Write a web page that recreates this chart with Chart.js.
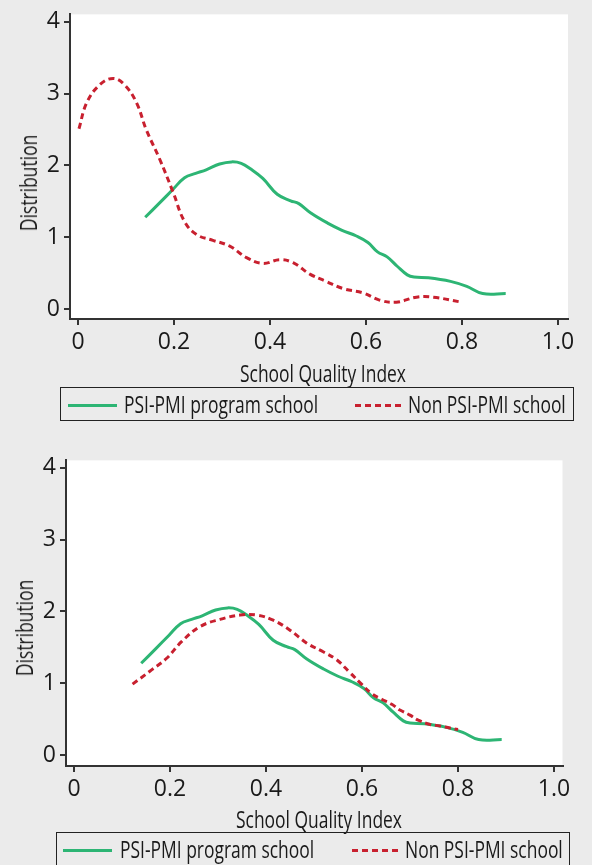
<!DOCTYPE html>
<html>
<head>
<meta charset="utf-8">
<script src="https://cdn.jsdelivr.net/npm/chart.js@4.4.0/dist/chart.umd.min.js"></script>
<style>
  html, body { margin: 0; padding: 0; width: 592px; height: 865px; overflow: hidden; background: #ebebeb; }
  canvas { position: absolute; left: 0; }
  .ttl, .legend {
    position: absolute; white-space: nowrap; color: #1a1a1a;
    font-family: 'Open Sans', sans-serif; font-size: 23px;
  }
  .ttl { line-height: 22px; height: 22px; }
  .legend { box-sizing: border-box; width: 514px; height: 34px; border: 1px solid #222; }
  .legend span { position: absolute; }
  .txt { top: 0; line-height: 32px; transform-origin: 0 50%; }
  .swatch { top: 15.5px; height: 3px; }
  .solid { width: 49px; background: #2db574; }
  .dash { width: 48px; background: repeating-linear-gradient(to right, #c8202f 0 6px, transparent 6px 10px); }
</style>
</head>
<body>
<canvas id="c1" width="592" height="360" style="top:0"></canvas>
<canvas id="c2" width="592" height="360" style="top:446px"></canvas>

<div class="ttl ytl" style="left:28px; top:182.5px">Distribution</div>
<div class="ttl xtl" style="left:322.5px; top:361.7px">School Quality Index</div>
<div class="legend" style="left:60px; top:387px">
  <span class="swatch solid" style="left:7px"></span><span class="txt" style="left:63px">PSI-PMI program school</span>
  <span class="swatch dash" style="left:294px"></span><span class="txt" style="left:347px">Non PSI-PMI school</span>
</div>

<div class="ttl ytl" style="left:24.3px; top:628px">Distribution</div>
<div class="ttl xtl" style="left:319px; top:808.3px">School Quality Index</div>
<div class="legend" style="left:56px; top:832px">
  <span class="swatch solid" style="left:6px"></span><span class="txt" style="left:63px">PSI-PMI program school</span>
  <span class="swatch dash" style="left:295px"></span><span class="txt" style="left:348px">Non PSI-PMI school</span>
</div>

<script>
const xTickValues = [0, 0.2, 0.4, 0.6, 0.8, 1.0];
const xTickLabels = ['0', '0.2', '0.4', '0.6', '0.8', '1.0'];
const yTickValues = [0, 1, 2, 3, 4];
const yTickLabels = ['0', '1', '2', '3', '4'];
const seriesNames = ['PSI-PMI program school', 'Non PSI-PMI school'];

// program schools: same curve in both panels
const programX = [0.14, 0.17, 0.198, 0.222, 0.245, 0.267, 0.295, 0.32, 0.34, 0.36, 0.385, 0.415, 0.443, 0.46,
  0.485, 0.52, 0.55, 0.58, 0.604, 0.624, 0.644, 0.665, 0.686, 0.70, 0.73, 0.776, 0.81, 0.843, 0.891];
const programY = [1.28, 1.48, 1.67, 1.83, 1.89, 1.94, 2.02, 2.05, 2.03, 1.95, 1.82, 1.60, 1.51, 1.47,
  1.34, 1.20, 1.10, 1.02, 0.93, 0.80, 0.73, 0.60, 0.48, 0.45, 0.44, 0.39, 0.32, 0.22, 0.22];

// non program schools, top panel
const nonX1 = [0.002, 0.018, 0.045, 0.073, 0.097, 0.122, 0.142, 0.17, 0.198, 0.222, 0.247, 0.281, 0.316,
  0.351, 0.385, 0.42, 0.448, 0.483, 0.517, 0.552, 0.594, 0.628, 0.663, 0.705, 0.74, 0.80];
const nonY1 = [2.51, 2.87, 3.12, 3.21, 3.12, 2.87, 2.50, 2.09, 1.63, 1.22, 1.04, 0.96, 0.88,
  0.72, 0.64, 0.69, 0.65, 0.49, 0.39, 0.29, 0.23, 0.13, 0.10, 0.17, 0.17, 0.10];

// non program schools, bottom panel
const nonX2 = [0.122, 0.158, 0.193, 0.224, 0.2625, 0.304, 0.346, 0.381, 0.415, 0.45, 0.485, 0.519, 0.547,
  0.575, 0.599, 0.62, 0.641, 0.662, 0.679, 0.70, 0.717, 0.742, 0.7625, 0.783, 0.80];
const nonY2 = [0.99, 1.17, 1.35, 1.58, 1.79, 1.89, 1.95, 1.95, 1.88, 1.74, 1.56, 1.44, 1.33,
  1.15, 0.99, 0.86, 0.78, 0.71, 0.63, 0.56, 0.49, 0.43, 0.41, 0.38, 0.36];

// no condensed face is installed, so squeeze the text horizontally instead
const mctx = document.createElement('canvas').getContext('2d');
mctx.font = "23px 'Open Sans', sans-serif";
const squeeze = 166 / mctx.measureText('School Quality Index').width;
document.querySelectorAll('.xtl').forEach(el => { el.style.transform = `translateX(-50%) scaleX(${squeeze})`; });
document.querySelectorAll('.ytl').forEach(el => { el.style.transform = `translate(-50%, -50%) rotate(-90deg) scaleX(${squeeze})`; });
document.querySelectorAll('.txt').forEach(el => { el.style.transform = `scaleX(${squeeze})`; });

const toPoints = (xs, ys) => xs.map((x, i) => ({ x: x, y: ys[i] }));

const plotBg = {
  id: 'plotBg',
  beforeDraw(chart) {
    const { ctx, chartArea: a } = chart;
    ctx.save();
    ctx.fillStyle = '#ffffff';
    ctx.fillRect(a.left, a.top, a.right - a.left, a.bottom - a.top);
    ctx.restore();
  }
};

const axisColor = '#333333';

function makeChart(id, nonX, nonY, box) {
  new Chart(document.getElementById(id), {
    type: 'line',
    data: {
      datasets: [{
        label: seriesNames[0],
        data: toPoints(programX, programY),
        borderColor: '#2db574',
        borderWidth: 3,
        pointRadius: 0,
        tension: 0.4,
        order: 1
      }, {
        label: seriesNames[1],
        data: toPoints(nonX, nonY),
        borderColor: '#c8202f',
        borderWidth: 3,
        borderDash: [6, 4],
        pointRadius: 0,
        tension: 0.4,
        order: 0
      }]
    },
    options: {
      responsive: false,
      animation: false,
      layout: { padding: { top: 11, right: box.rightPad, left: 0, bottom: 0 } },
      plugins: { legend: { display: false }, tooltip: { enabled: false } },
      scales: {
        x: {
          type: 'linear',
          min: box.xMin,
          max: box.xMax,
          afterFit: s => { s.height = box.xAxisHeight; },
          afterBuildTicks: s => { s.ticks = xTickValues.map(v => ({ value: v })); },
          ticks: {
            font: { family: "'Open Sans', sans-serif", size: 23 },
            color: '#1a1a1a', padding: 4, maxRotation: 0,
            callback: (v, i) => xTickLabels[i]
          },
          grid: { drawOnChartArea: false, drawTicks: true, tickLength: 6, color: axisColor, lineWidth: 2 },
          border: { display: true, color: axisColor, width: 2 }
        },
        y: {
          min: box.yMin,
          max: box.yMax,
          afterFit: s => { s.width = box.axisLeft; },
          afterBuildTicks: s => { s.ticks = yTickValues.map(v => ({ value: v })); },
          ticks: {
            font: { family: "'Open Sans', sans-serif", size: 23, lineHeight: 0.9 },
            color: '#1a1a1a', padding: 4,
            callback: (v, i) => yTickLabels[i]
          },
          grid: { drawOnChartArea: false, drawTicks: true, tickLength: 6, color: axisColor, lineWidth: 2 },
          border: { display: true, color: axisColor, width: 2 }
        }
      }
    },
    plugins: [plotBg]
  });
}

makeChart('c1', nonX1, nonY1, { axisLeft: 70, rightPad: 24, xMin: -0.0167, xMax: 1.0208, yMin: -0.133, yMax: 4.1, xAxisHeight: 41 });
makeChart('c2', nonX2, nonY2, { axisLeft: 66, rightPad: 29.5, xMin: -0.0167, xMax: 1.0177, yMin: -0.147, yMax: 4.1, xAxisHeight: 40 });
</script>
</body>
</html>
